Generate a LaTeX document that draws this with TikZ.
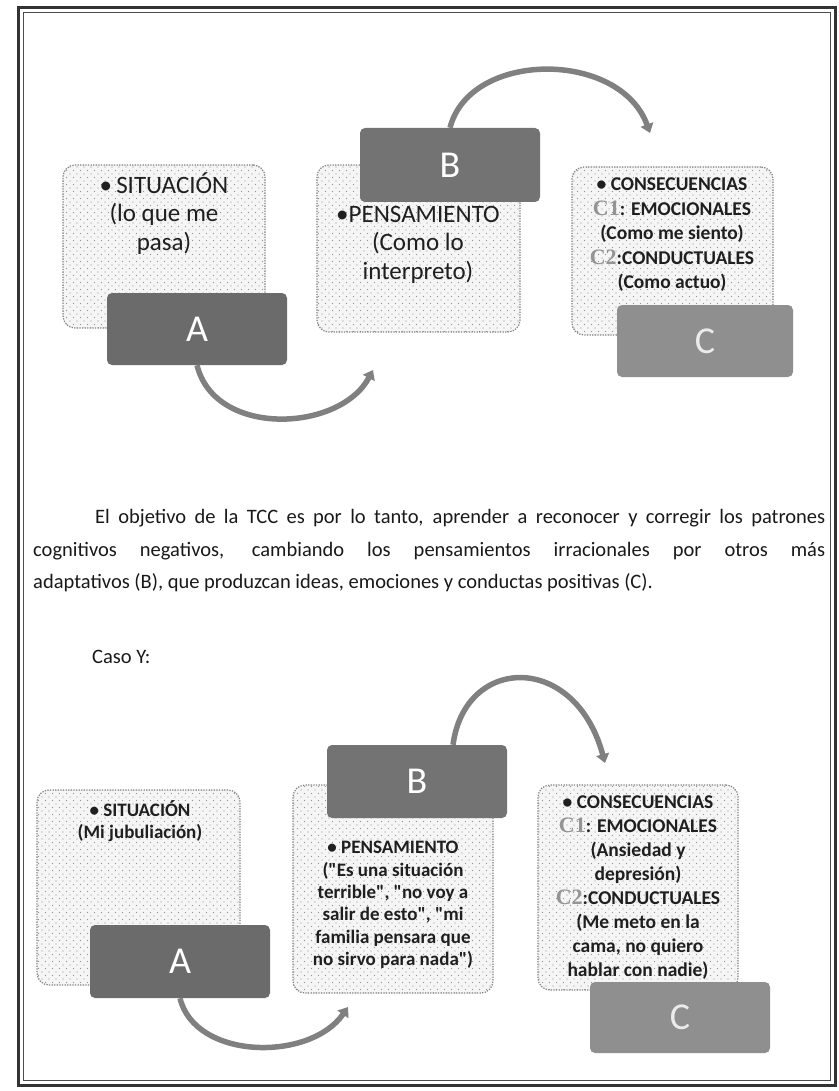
\documentclass[tikz,border=0pt]{standalone}
\usepackage{fontspec}
\setmainfont{Carlito}[Ligatures=TeXOff]
\newfontfamily\cfont{Liberation Serif}
\usetikzlibrary{arrows.meta,patterns.meta}

% halftone dots used to fill the light boxes
\tikzdeclarepattern{
  name=halftone,
  type=uncolored,
  bounding box={(-1pt,-1pt) and (5pt,5pt)},
  tile size={(7pt,7pt)},
  code={\fill (0pt,0pt) circle (0.6pt); \fill (3.5pt,3.5pt) circle (0.6pt);}
}

% grey serif labels C1 / C2
\newcommand\clab[1]{{\cfont\bfseries\color{black!42}\fontsize{22}{22}\selectfont #1}}

\tikzset{
  lbox/.style={draw=black!50, line width=1.2pt, dash pattern=on 1.3pt off 1.3pt,
    rounded corners=12pt, preaction={fill=black!4}, pattern=halftone,
    pattern color=black!42, inner sep=0pt},
  dbox/.style={fill=#1, rounded corners=5pt, inner sep=0pt, text=white,
    font=\fontsize{38}{40}\selectfont},
  flow/.style={draw=black!50, line width=5.5pt, -{Triangle[width=13pt,length=9pt]}},
  bigtxt/.style={align=center, inner sep=0pt, text=black!88,
    font=\fontsize{25}{28.5}\selectfont},
  midtxt/.style={align=center, inner sep=0pt, text=black!88,
    font=\bfseries\fontsize{19.5}{24.5}\selectfont},
  smtxt/.style={align=center, inner sep=0pt, text=black!88,
    font=\bfseries\fontsize{19}{22.4}\selectfont},
  para/.style={inner sep=0pt, anchor=base west, text=black!90,
    font=\fontsize{20.5}{24}\selectfont}
}

\begin{document}
\begin{tikzpicture}[x=1pt,y=-1pt]
\useasboundingbox (0,0) rectangle (838,1091);

% page frame (double rule)
\draw[line width=3.5pt, black!80] (18.5,7.5) rectangle (835.5,1085.5);
\draw[line width=1.2pt, black!70] (23.5,12.5) rectangle (830.5,1080.5);

% ---------- first A-B-C diagram ----------
\node[lbox, minimum width=202pt, minimum height=163pt] (sit1) at (164,246.5) {};
\node[lbox, minimum width=203pt, minimum height=167pt] (pen1) at (418.5,248.5) {};
\node[lbox, minimum width=201pt, minimum height=168pt] (con1) at (672.5,251) {};

\node[bigtxt] (sit1t) at (164,213.5) {•\,SITUACIÓN\\(lo que me\\pasa)};
\node[bigtxt] (pen1t) at (418,244.5) {•PENSAMIENTO\\(Como lo\\interpreto)};
\node[midtxt] (con1t) at (672,235) {• CONSECUENCIAS\\\clab{C1}: EMOCIONALES\\(Como me siento)\\\clab{C2}:CONDUCTUALES\\(Como actuo)};

\node[dbox=black!58, minimum width=180pt, minimum height=72pt] (A1) at (197,329) {A};
\node[dbox=black!55, minimum width=180pt, minimum height=74pt] (B1) at (450,165) {B};
\node[dbox=black!44, minimum width=176pt, minimum height=72pt, text=black!8] (C1) at (705,341) {C};

\coordinate (a1end) at (373,370);
\coordinate (b1end) at (650,133);
\draw[flow] (A1.south) .. controls (215,438) and (340,432) .. (a1end);
\draw[flow] (B1.north) .. controls (470,50) and (620,50) .. (b1end);

% ---------- paragraph ----------
\node[para] (p1) at (95,523) {\makebox[730pt][s]{El objetivo de la TCC es por lo tanto, aprender a reconocer y corregir los patrones}};
\node[para] (p2) at (33,556) {\makebox[792pt][s]{cognitivos negativos, cambiando los pensamientos irracionales por otros más}};
\node[para] (p3) at (33,588) {adaptativos (B), que produzcan ideas, emociones y conductas positivas (C).};
\node[para] (caso) at (92,663) {Caso Y:};

% ---------- second A-B-C diagram ----------
\node[lbox, minimum width=203pt, minimum height=195pt] (sit2) at (138.5,887.5) {};
\node[lbox, minimum width=200pt, minimum height=208pt] (pen2) at (393,889) {};
\node[lbox, minimum width=200pt, minimum height=205pt] (con2) at (638,887.5) {};

\node[smtxt] (sit2t) at (140,821) {• SITUACIÓN\\(Mi jubuliación)};
\node[smtxt] (pen2t) at (393,905) {• PENSAMIENTO\\("Es una situación\\terrible", "no voy a\\salir de esto", "mi\\familia pensara que\\no sirvo para nada")};
\node[midtxt, font=\bfseries\fontsize{19.5}{24}\selectfont] (con2t) at (638,887.5) {• CONSECUENCIAS\\\clab{C1}: EMOCIONALES\\(Ansiedad y\\depresión)\\\clab{C2}:CONDUCTUALES\\(Me meto en la\\cama, no quiero\\hablar con nadie)};

\node[dbox=black!58, minimum width=180pt, minimum height=73pt] (A2) at (180,961.5) {A};
\node[dbox=black!55, minimum width=180pt, minimum height=73pt] (B2) at (417,781.5) {B};
\node[dbox=black!44, minimum width=180pt, minimum height=71pt, text=black!8] (C2) at (680,1017.5) {C};

\coordinate (a2end) at (348,1007);
\coordinate (b2end) at (605,763);
\draw[flow] (A2.south) .. controls (195,1060) and (310,1062) .. (a2end);
\draw[flow] ([xshift=36pt]B2.north) .. controls (465,655) and (575,652) .. (b2end);
\end{tikzpicture}
\end{document}
